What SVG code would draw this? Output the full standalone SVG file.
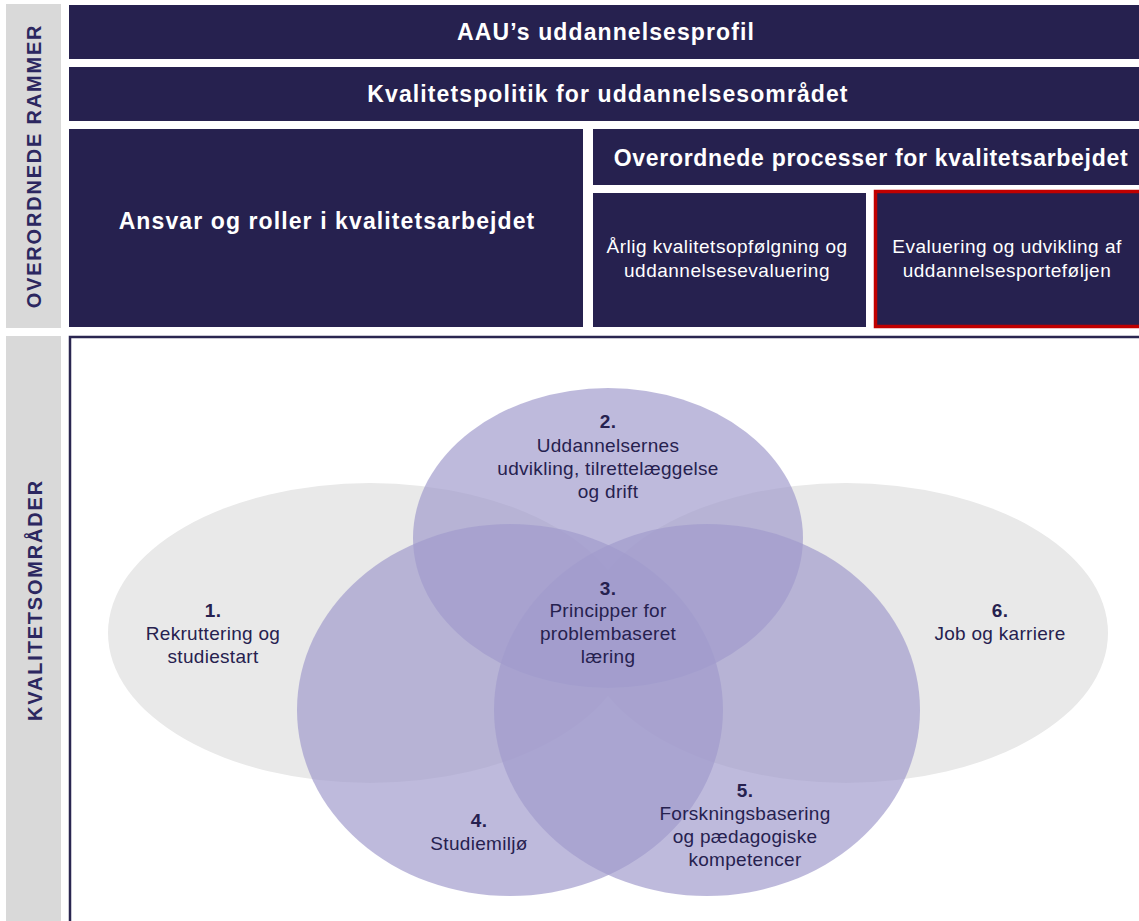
<svg xmlns="http://www.w3.org/2000/svg" width="1139" height="921" viewBox="0 0 1139 921">
<style>
.side{fill:#d9d9d9}
.box{fill:#26214f}
.t{font-family:"Liberation Sans",Arial,sans-serif;fill:#fff;text-anchor:middle}
.tb{font-weight:bold;font-size:23px;letter-spacing:1.1px}
.tr{font-size:19px;letter-spacing:0.5px}
.vl{font-family:"Liberation Sans",Arial,sans-serif;font-weight:bold;font-size:20px;letter-spacing:1.8px;fill:#2c2760;text-anchor:middle}
.gray{fill:#e9e9e9}
.purple{fill:#a19bcc;fill-opacity:0.69}
.ct{font-family:"Liberation Sans",Arial,sans-serif;font-size:19px;letter-spacing:0.3px;fill:#26214f;text-anchor:middle}
.num{font-weight:bold}
</style>
<rect width="1139" height="921" fill="#ffffff"/>
<g id="side-labels">
<rect class="side" x="6" y="4" width="55" height="324"/>
<rect class="side" x="6" y="336" width="55" height="590"/>
<text class="vl" transform="translate(41,166) rotate(-90)">OVERORDNEDE RAMMER</text>
<text class="vl" transform="translate(42,600) rotate(-90)">KVALITETSOMRÅDER</text>
</g>
<g id="node-profil">
<rect class="box" x="69" y="5" width="1075" height="54"/>
<text class="t tb" x="606" y="40">AAU’s uddannelsesprofil</text>
</g>
<g id="node-politik">
<rect class="box" x="69" y="67" width="1075" height="54"/>
<text class="t tb" x="608" y="102">Kvalitetspolitik for uddannelsesområdet</text>
</g>
<g id="node-ansvar">
<rect class="box" x="69" y="129" width="514" height="198"/>
<text class="t tb" x="327" y="229">Ansvar og roller i kvalitetsarbejdet</text>
</g>
<g id="node-processer">
<rect class="box" x="593" y="129" width="550" height="56"/>
<text class="t tb" x="871" y="166" style="letter-spacing:0.7px">Overordnede processer for kvalitetsarbejdet</text>
</g>
<g id="node-aarlig">
<rect class="box" x="593" y="193" width="273" height="134"/>
<text class="t tr" x="727" y="253">Årlig kvalitetsopfølgning og</text>
<text class="t tr" x="727" y="277">uddannelsesevaluering</text>
</g>
<g id="node-evaluering">
<rect class="box" x="875.5" y="191.5" width="270" height="135" stroke="#c00000" stroke-width="3.5"/>
<text class="t tr" x="1007" y="253">Evaluering og udvikling af</text>
<text class="t tr" x="1007" y="277">uddannelsesporteføljen</text>
</g>
<g id="panel">
<rect x="70" y="337" width="1080" height="600" fill="#ffffff" stroke="#2a2650" stroke-width="2.5"/>
</g>
<g id="connectors"></g>
<g id="node-1">
<ellipse class="gray" cx="370" cy="633" rx="262" ry="150"/>
</g>
<g id="node-6">
<ellipse class="gray" cx="846" cy="633" rx="262" ry="150"/>
</g>
<g id="node-2">
<ellipse class="purple" cx="608" cy="538" rx="195" ry="150"/>
</g>
<g id="node-4">
<ellipse class="purple" cx="510" cy="710" rx="213" ry="186"/>
</g>
<g id="node-5">
<ellipse class="purple" cx="707" cy="710" rx="213" ry="186"/>
</g>
<g id="labels">
<text class="ct num" x="213" y="617">1.</text>
<text class="ct" x="213" y="640">Rekruttering og</text>
<text class="ct" x="213" y="663">studiestart</text>
<text class="ct num" x="608" y="428">2.</text>
<text class="ct" x="608" y="452">Uddannelsernes</text>
<text class="ct" x="608" y="475">udvikling, tilrettelæggelse</text>
<text class="ct" x="608" y="498">og drift</text>
<text class="ct num" x="608" y="595">3.</text>
<text class="ct" x="608" y="617">Principper for</text>
<text class="ct" x="608" y="640">problembaseret</text>
<text class="ct" x="608" y="663">læring</text>
<text class="ct num" x="479" y="827">4.</text>
<text class="ct" x="479" y="850">Studiemiljø</text>
<text class="ct num" x="745" y="797">5.</text>
<text class="ct" x="745" y="820">Forskningsbasering</text>
<text class="ct" x="745" y="843">og pædagogiske</text>
<text class="ct" x="745" y="866">kompetencer</text>
<text class="ct num" x="1000" y="617">6.</text>
<text class="ct" x="1000" y="640">Job og karriere</text>
</g>
</svg>
